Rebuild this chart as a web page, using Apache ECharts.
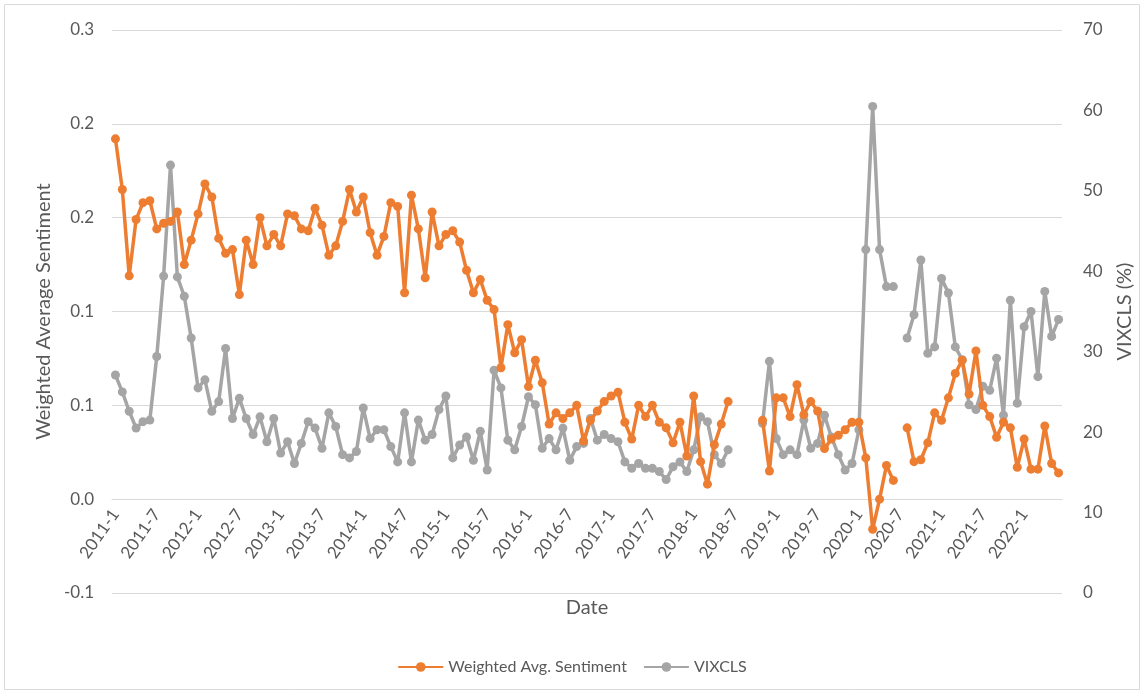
<!DOCTYPE html>
<html>
<head>
<meta charset="utf-8">
<script src="https://cdn.jsdelivr.net/npm/echarts@6/dist/echarts.min.js"></script>
<style>
  html, body { margin: 0; padding: 0; background: #fff; }
  #chart { width: 1144px; height: 694px; }
</style>
</head>
<body>
<div id="chart"></div>
<script>
// months 2011-1 .. 2022-6
const months = []
for (let y = 2011; y <= 2022; y++) {
  for (let m = 1; m <= 12; m++) {
    if (y === 2022 && m > 6) break
    months.push(y + '-' + m)
  }
}

const sentiment = [
  0.192, 0.165, 0.119, 0.149, 0.158, 0.159, 0.144, 0.147, 0.148, 0.153, 0.125, 0.138,
  0.152, 0.168, 0.161, 0.139, 0.131, 0.133, 0.109, 0.138, 0.125, 0.150, 0.135, 0.141,
  0.135, 0.152, 0.151, 0.144, 0.143, 0.155, 0.146, 0.130, 0.135, 0.148, 0.165, 0.153,
  0.161, 0.142, 0.130, 0.140, 0.158, 0.156, 0.110, 0.162, 0.144, 0.118, 0.153, 0.135,
  0.141, 0.143, 0.137, 0.122, 0.110, 0.117, 0.106, 0.101, 0.070, 0.093, 0.078, 0.085,
  0.060, 0.074, 0.062, 0.040, 0.046, 0.043, 0.046, 0.050, 0.031, 0.042, 0.047, 0.052,
  0.055, 0.057, 0.041, 0.032, 0.050, 0.044, 0.050, 0.041, 0.038, 0.030, 0.041, 0.023,
  0.055, 0.020, 0.008, 0.029, 0.040, 0.052, null, null, null, null, 0.042, 0.015,
  0.054, 0.054, 0.044, 0.061, 0.045, 0.052, 0.047, 0.027, 0.032, 0.034, 0.037, 0.041,
  0.041, 0.022, -0.016, 0.000, 0.018, 0.010, null, 0.038, 0.020, 0.021, 0.030, 0.046,
  0.042, 0.054, 0.067, 0.074, 0.056, 0.079, 0.050, 0.044, 0.033, 0.041, 0.038, 0.017,
  0.032, 0.016, 0.016, 0.039, 0.019, 0.014
]

const vixcls = [
  27.1, 25.0, 22.6, 20.5, 21.3, 21.5, 29.4, 39.4, 53.2, 39.3, 36.9, 31.7,
  25.5, 26.5, 22.6, 23.8, 30.4, 21.7, 24.2, 21.7, 19.7, 21.9, 18.8, 21.7,
  17.4, 18.8, 16.1, 18.6, 21.3, 20.5, 18.0, 22.4, 20.7, 17.2, 16.8, 17.6,
  23.0, 19.2, 20.3, 20.3, 18.2, 16.3, 22.4, 16.3, 21.5, 19.0, 19.7, 22.8,
  24.5, 16.8, 18.4, 19.4, 16.5, 20.1, 15.3, 27.7, 25.5, 19.0, 17.8, 20.7,
  24.4, 23.4, 18.0, 19.2, 17.8, 20.5, 16.5, 18.2, 18.6, 21.7, 19.0, 19.7,
  19.2, 18.8, 16.3, 15.5, 16.1, 15.5, 15.5, 15.1, 14.1, 15.7, 16.3, 15.1,
  17.8, 21.9, 21.3, 17.2, 16.1, 17.8, null, null, null, null, 21.1, 28.8,
  19.2, 17.2, 17.8, 17.2, 21.5, 18.0, 18.6, 22.1, 19.4, 17.2, 15.3, 16.1,
  20.3, 42.7, 60.5, 42.7, 38.1, 38.1, null, 31.7, 34.6, 41.4, 29.8, 30.6,
  39.1, 37.3, 30.6, 29.0, 23.4, 22.8, 25.7, 25.2, 29.2, 22.1, 36.4, 23.6,
  33.1, 35.0, 26.9, 37.5, 31.9, 34.0
]

// left axis ticks -0.05 .. 0.25, shown with one decimal as in the source
const leftTickLabels = ['-0.1', '0.0', '0.1', '0.1', '0.2', '0.2', '0.3']

const font = 'Lato, "Liberation Sans", sans-serif'
const textColor = '#595959'
const gridColor = '#d9d9d9'

const chart = echarts.init(document.getElementById('chart'), null, { renderer: 'canvas' })

chart.setOption({
  animation: false,
  textStyle: { fontFamily: font },
  graphic: [{
    type: 'rect',
    shape: { x: 4.5, y: 4.5, width: 1135, height: 685 },
    style: { fill: 'none', stroke: gridColor, lineWidth: 1 },
    silent: true
  }],
  grid: [
    // plot area
    { left: 112, right: 82, top: 30, bottom: 101, containLabel: false, outerBoundsMode: 'none' },
    // date axis crosses the left axis at 0.0
    { left: 112, right: 82, top: 30, bottom: 195, containLabel: false, outerBoundsMode: 'none' }
  ],
  legend: {
    bottom: 14,
    left: 'center',
    itemWidth: 45,
    itemHeight: 12,
    itemGap: 16,
    textStyle: { fontFamily: font, fontSize: 16, color: textColor },
    data: ['Weighted Avg. Sentiment', 'VIXCLS']
  },
  xAxis: [
    {
      type: 'category',
      gridIndex: 0,
      data: months,
      boundaryGap: true,
      axisLine: { show: false },
      axisTick: { show: false },
      axisLabel: { show: false }
    },
    {
      type: 'category',
      gridIndex: 1,
      data: months,
      boundaryGap: true,
      name: 'Date',
      nameLocation: 'middle',
      nameGap: 99,
      nameTextStyle: { fontFamily: font, fontSize: 20, color: textColor },
      axisLine: { lineStyle: { color: gridColor } },
      axisTick: { interval: 5, length: 5, lineStyle: { color: gridColor } },
      axisLabel: {
        interval: 5,
        rotate: 55,
        margin: 12,
        fontFamily: font,
        fontSize: 17,
        color: textColor
      }
    }
  ],
  yAxis: [
    {
      type: 'value',
      gridIndex: 0,
      min: -0.05,
      max: 0.25,
      interval: 0.05,
      name: 'Weighted Average Sentiment',
      nameLocation: 'middle',
      nameGap: 57,
      nameTextStyle: { fontFamily: font, fontSize: 20, color: textColor },
      axisLine: { show: false },
      axisTick: { show: false },
      splitLine: { lineStyle: { color: gridColor } },
      axisLabel: {
        margin: 18,
        fontFamily: font,
        fontSize: 17,
        color: textColor,
        formatter: v => leftTickLabels[Math.round((v + 0.05) / 0.05)]
      }
    },
    {
      type: 'value',
      gridIndex: 0,
      min: 0,
      max: 70,
      interval: 10,
      name: 'VIXCLS (%)',
      nameLocation: 'middle',
      nameGap: 53,
      nameTextStyle: { fontFamily: font, fontSize: 20, color: textColor },
      axisLine: { show: false },
      axisTick: { show: false },
      splitLine: { show: false },
      axisLabel: { margin: 21, fontFamily: font, fontSize: 17, color: textColor }
    },
    {
      type: 'value',
      gridIndex: 1,
      min: 0,
      max: 1,
      show: false
    }
  ],
  series: [
    {
      name: 'Weighted Avg. Sentiment',
      type: 'line',
      xAxisIndex: 0,
      yAxisIndex: 0,
      data: sentiment,
      symbol: 'circle',
      symbolSize: 9,
      showAllSymbol: true,
      lineStyle: { width: 3.5, color: '#ED7D31' },
      itemStyle: { color: '#ED7D31' },
      z: 3
    },
    {
      name: 'VIXCLS',
      type: 'line',
      xAxisIndex: 0,
      yAxisIndex: 1,
      data: vixcls,
      symbol: 'circle',
      symbolSize: 9,
      showAllSymbol: true,
      lineStyle: { width: 3.5, color: '#A5A5A5' },
      itemStyle: { color: '#A5A5A5' },
      z: 2
    }
  ]
})
</script>
</body>
</html>
